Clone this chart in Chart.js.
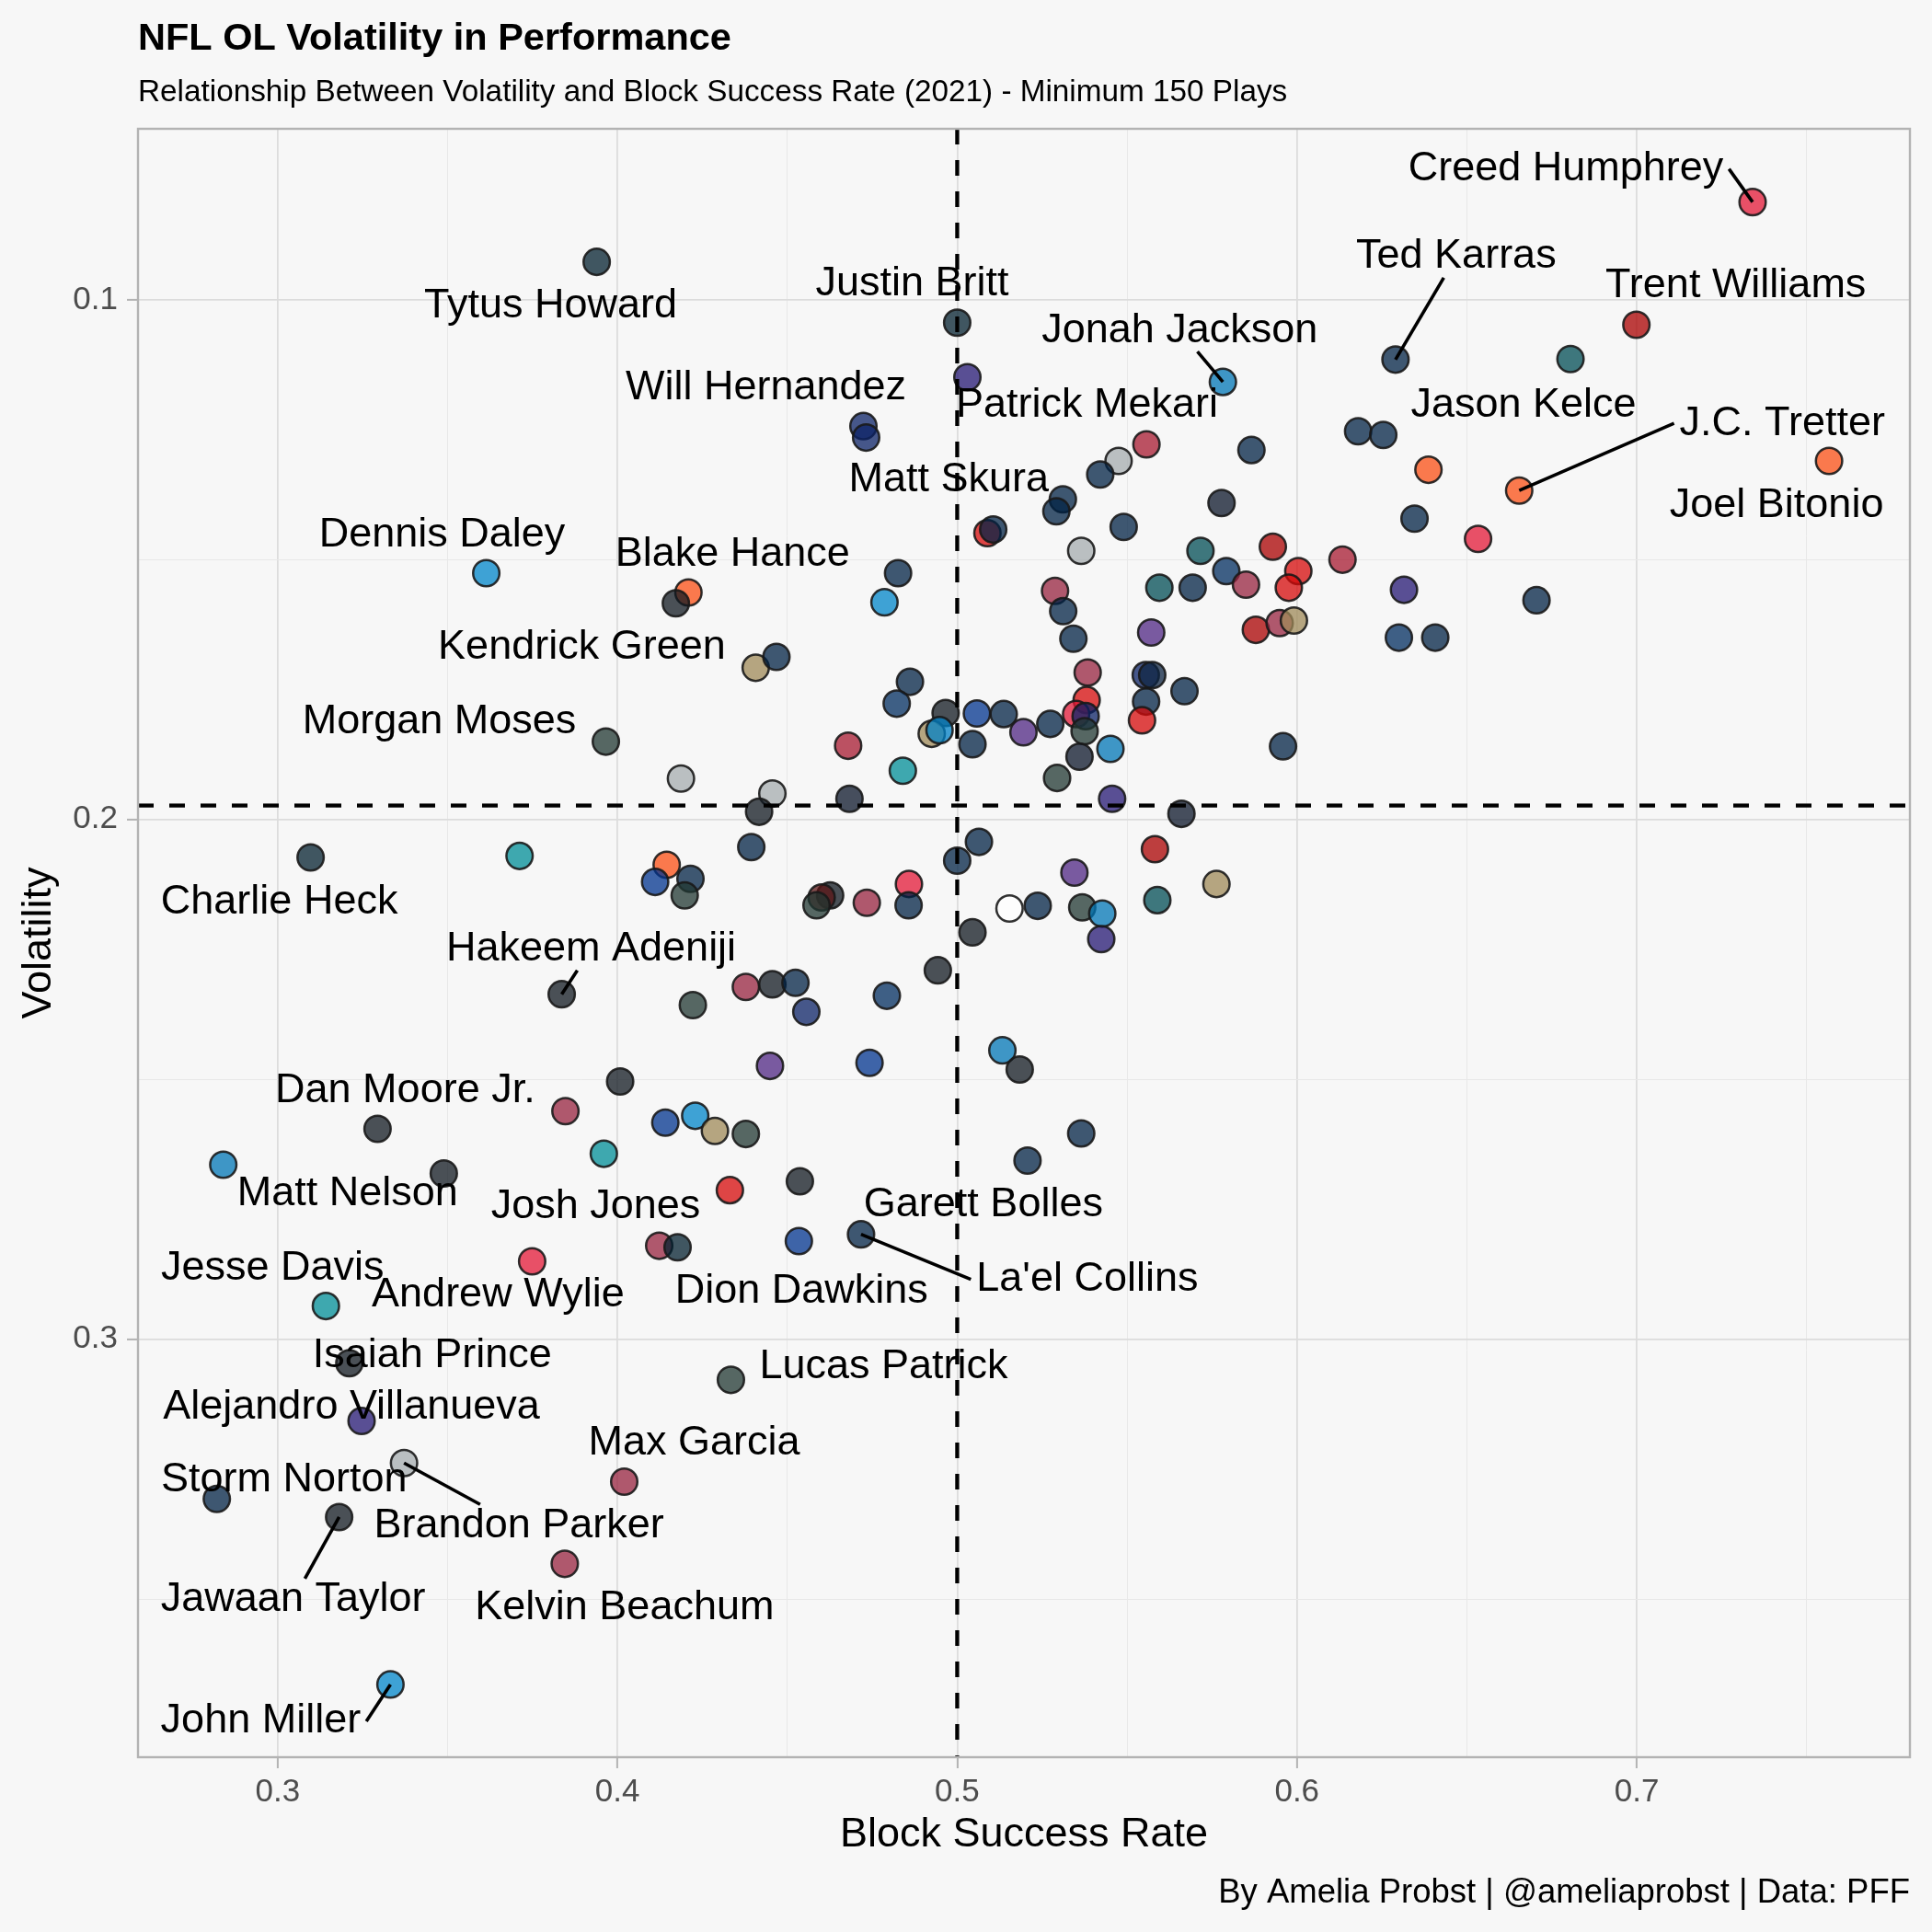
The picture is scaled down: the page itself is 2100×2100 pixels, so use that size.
<!DOCTYPE html>
<html>
<head>
<meta charset="utf-8">
<title>NFL OL Volatility in Performance</title>
<script src="https://cdn.jsdelivr.net/npm/chart.js@4.4.1/dist/chart.umd.min.js"></script>
<style>
  html, body { margin: 0; padding: 0; background: #f7f7f7; }
  #wrap { width: 2100px; height: 2100px; position: relative; }
</style>
</head>
<body>
<div id="wrap"><canvas id="olChart"></canvas></div>
<script>
// labelled linemen come first in the point arrays, in this order
const labelNames = [
  'Creed Humphrey', 'Ted Karras', 'Trent Williams', 'Jonah Jackson', 'Justin Britt',
  'Tytus Howard', 'Will Hernandez', 'Patrick Mekari', 'Matt Skura', 'Jason Kelce',
  'J.C. Tretter', 'Joel Bitonio', 'Dennis Daley', 'Blake Hance', 'Kendrick Green',
  'Morgan Moses', 'Charlie Heck', 'Hakeem Adeniji', 'Dan Moore Jr.', 'Matt Nelson',
  'Josh Jones', 'Garett Bolles', 'Jesse Davis', 'Andrew Wylie', 'Dion Dawkins',
  "La'el Collins", 'Isaiah Prince', 'Lucas Patrick', 'Alejandro Villanueva', 'Max Garcia',
  'Storm Norton', 'Brandon Parker', 'Jawaan Taylor', 'Kelvin Beachum', 'John Miller'
];

const blockSuccess = [
  // labelled
  0.7341, 0.6290, 0.6999, 0.5782, 0.5000, 0.3939, 0.4724, 0.5030, 0.5311, 0.6805,
  0.6654, 0.7566, 0.3614, 0.4209, 0.4407, 0.3966, 0.3097, 0.3836, 0.3294, 0.2840,
  0.4123, 0.5207, 0.3142, 0.3749, 0.4534, 0.4717, 0.3211, 0.4334, 0.3247, 0.4020,
  0.2821, 0.3372, 0.3181, 0.3845, 0.3332,
  // the rest
  0.4172, 0.4468, 0.4732, 0.5557, 0.5475, 0.5421, 0.5866, 0.5778, 0.5292, 0.5089,
  0.5106, 0.5490, 0.5365, 0.5716, 0.5929, 0.6134, 0.6004, 0.5792, 0.5850, 0.5976,
  0.5595, 0.5693, 0.5879, 0.5949, 0.5991, 0.5571, 0.5288, 0.5312, 0.5342, 0.4826,
  0.4786, 0.4861, 0.5384, 0.5555, 0.5574, 0.5669, 0.6180, 0.6254, 0.6387, 0.6346,
  0.6533, 0.6315, 0.6705, 0.6300, 0.6407, 0.4822, 0.4966, 0.4925, 0.4948, 0.5058,
  0.5137, 0.5195, 0.5274, 0.5045, 0.5381, 0.5350, 0.5378, 0.5375, 0.5360, 0.5451,
  0.5294, 0.5456, 0.5556, 0.5544, 0.5959, 0.5660, 0.4679, 0.4840, 0.4456, 0.4417,
  0.4683, 0.4394, 0.5064, 0.5000, 0.5345, 0.5582, 0.5763, 0.5589, 0.5154, 0.5237,
  0.5368, 0.5427, 0.5424, 0.4858, 0.4857, 0.4734, 0.4626, 0.4601, 0.4586, 0.5045,
  0.4943, 0.4378, 0.4456, 0.4524, 0.4556, 0.4793, 0.4449, 0.4742, 0.5133, 0.5184,
  0.4378, 0.4537, 0.5365, 0.4331, 0.4187, 0.3712, 0.4145, 0.4111, 0.4215, 0.4198,
  0.4222, 0.4008, 0.3847, 0.4141, 0.4229, 0.4287, 0.3960, 0.3489, 0.4177
];

const volatility = [
  // labelled
  0.0812, 0.1115, 0.1048, 0.1158, 0.1044, 0.0927, 0.1243, 0.1149, 0.1384, 0.1114,
  0.1367, 0.1310, 0.1526, 0.1563, 0.1708, 0.1850, 0.2073, 0.2336, 0.2595, 0.2664,
  0.2820, 0.2656, 0.2936, 0.2850, 0.2811, 0.2798, 0.3046, 0.3078, 0.3157, 0.3274,
  0.3307, 0.3238, 0.3342, 0.3432, 0.3664,
  // the rest
  0.1584, 0.1687, 0.1265, 0.1278, 0.1310, 0.1336, 0.1289, 0.1391, 0.1407, 0.1449,
  0.1442, 0.1437, 0.1483, 0.1483, 0.1475, 0.1500, 0.1522, 0.1522, 0.1548, 0.1554,
  0.1554, 0.1554, 0.1635, 0.1622, 0.1617, 0.1640, 0.1560, 0.1599, 0.1652, 0.1526,
  0.1582, 0.1735, 0.1717, 0.1722, 0.1722, 0.1753, 0.1253, 0.1260, 0.1327, 0.1421,
  0.1460, 0.1558, 0.1578, 0.1650, 0.1650, 0.1777, 0.1795, 0.1835, 0.1828, 0.1796,
  0.1797, 0.1832, 0.1816, 0.1855, 0.1770, 0.1797, 0.1801, 0.1830, 0.1879, 0.1864,
  0.1920, 0.1960, 0.1773, 0.1809, 0.1859, 0.1989, 0.1858, 0.1906, 0.1950, 0.1985,
  0.1960, 0.2053, 0.2043, 0.2079, 0.2102, 0.2057, 0.2124, 0.2155, 0.2171, 0.2166,
  0.2169, 0.2181, 0.2230, 0.2124, 0.2165, 0.2160, 0.2146, 0.2150, 0.2165, 0.2217,
  0.2290, 0.2322, 0.2317, 0.2314, 0.2370, 0.2339, 0.2474, 0.2468, 0.2444, 0.2481,
  0.2605, 0.2696, 0.2604, 0.2713, 0.1921, 0.2070, 0.2087, 0.2120, 0.2114, 0.2146,
  0.2357, 0.2504, 0.2561, 0.2583, 0.2570, 0.2599, 0.2643, 0.2681, 0.2823
];

const teams = [
  // labelled
  'KC', 'NE', 'SF', 'DET', 'HOU', 'HOU', 'NYG', 'BAL', 'NE', 'PHI',
  'CLE', 'CLE', 'CAR', 'CLE', 'NO', 'GB', 'HOU', 'PIT', 'PIT', 'DET',
  'ARI', 'NE', 'MIA', 'KC', 'BUF', 'NE', 'PIT', 'GB', 'BAL', 'ARI',
  'NE', 'LV', 'PIT', 'ARI', 'CAR',
  // the rest
  'PIT', 'NE', 'NYG', 'ATL', 'LV', 'NE', 'NE', 'CHI', 'NE', 'TB',
  'NE', 'NE', 'LV', 'PHI', 'SF', 'ATL', 'TB', 'IND', 'ARI', 'TB',
  'PHI', 'NE', 'SF', 'ARI', 'NO', 'MIN', 'ARI', 'NE', 'NE', 'NE',
  'CAR', 'NE', 'ARI', 'NYG', 'TEN', 'NE', 'NE', 'NE', 'CLE', 'NE',
  'KC', 'BAL', 'NE', 'IND', 'NE', 'IND', 'PIT', 'NO', 'LAC', 'BUF',
  'NE', 'MIN', 'NE', 'NE', 'TB', 'KC', 'NYG', 'GB', 'CHI', 'DET',
  'GB', 'BAL', 'NE', 'TB', 'NE', 'CHI', 'ATL', 'MIA', 'LV', 'PIT',
  'CHI', 'NE', 'NE', 'NE', 'MIN', 'SF', 'NO', 'PHI', 'NONE', 'NE',
  'GB', 'DET', 'BAL', 'KC', 'NE', 'ARI', 'PIT', 'WAS', 'GB', 'PIT',
  'PIT', 'ARI', 'PIT', 'NE', 'NYG', 'IND', 'MIN', 'BUF', 'DET', 'PIT',
  'GB', 'PIT', 'NE', 'TB', 'LV', 'MIA', 'CLE', 'BUF', 'NE', 'GB',
  'GB', 'PIT', 'ARI', 'BUF', 'CAR', 'NO', 'MIA', 'PIT', 'HOU'
];

const xTickLabels = ['0.3', '0.4', '0.5', '0.6', '0.7'];
const yTickLabels = ['0.1', '0.2', '0.3'];
const xLimits = [0.2589, 0.7804];
const yLimits = [0.0671, 0.3804];

// averages shown as dashed reference lines
const avgBlockSuccess = 0.5;
const avgVolatility = 0.1973;

// ---- styling ----
const teamColors = {
  KC: '#E31837', NE: '#002244', SF: '#AA0000', DET: '#0076B6', HOU: '#03202F',
  NYG: '#0B2265', BAL: '#241773', PHI: '#004C54', CLE: '#FB4F14', CAR: '#0085CA',
  NO: '#9F8958', GB: '#203731', PIT: '#101820', ARI: '#97233F', MIA: '#008E97',
  BUF: '#00338D', LV: '#A5ACAF', ATL: '#A71930', CHI: '#0B162A', TB: '#D50A0A',
  IND: '#002C5F', MIN: '#4F2683', TEN: '#0C2340', LAC: '#0080C6', WAS: '#5A1414',
  NONE: '#FFFFFF'
};

// label centre relative to its point, in pixels (repel layout)
const labelOffsets = [
  [-203, -36], [66, -112], [108, -42], [-47, -56], [-49, -42],
  [-50, 48], [-106, -42], [130, 31], [-124, -21], [-51, 50],
  [286, -73], [-57, 49], [-48, -41], [48, -41], [-189, -22],
  [-181, -21], [-34, 49], [32, -49], [30, -41], [135, 32],
  [-69, -42], [-48, 48], [-58, -41], [-37, 37], [3, 55],
  [246, 49], [90, -8], [166, -14], [-11, -15], [76, -42],
  [73, -21], [125, 68], [-50, 90], [65, 48], [-141, 40]
];
const labelLeader = [
  true, true, false, true, false, false, false, false, false, false,
  true, false, false, false, false, false, false, true, false, false,
  false, false, false, false, false, true, false, false, false, false,
  false, true, true, false, true
];

const FONT = "'Liberation Sans', Arial, Helvetica, sans-serif";
Chart.defaults.font.family = FONT;

function withAlpha(hex, a) {
  const n = parseInt(hex.slice(1), 16);
  return `rgba(${(n >> 16) & 255}, ${(n >> 8) & 255}, ${n & 255}, ${a})`;
}

function tickText(v, list) {
  const s = String(+v.toFixed(2));
  return list.includes(s) ? s : '';
}

const nLabelled = labelNames.length;
const allPoints = blockSuccess.map((x, i) => ({ x: x, y: volatility[i] }));
const allFills = teams.map(t => withAlpha(teamColors[t], 0.75));

const pointStyle = {
  pointRadius: 14.3,
  pointHoverRadius: 14.3,
  borderWidth: 2.5,
  borderColor: 'rgba(25, 25, 25, 0.9)'
};

const annotate = {
  id: 'annotate',
  afterDatasetsDraw(chart) {
    const { ctx, chartArea: a, scales: { x, y } } = chart;
    ctx.save();

    // dashed average lines
    ctx.strokeStyle = '#000';
    ctx.lineWidth = 4.3;
    ctx.setLineDash([17, 17]);
    const vx = x.getPixelForValue(avgBlockSuccess);
    ctx.beginPath(); ctx.moveTo(vx, a.top); ctx.lineTo(vx, a.bottom); ctx.stroke();
    const hy = y.getPixelForValue(avgVolatility);
    ctx.beginPath(); ctx.moveTo(a.left, hy); ctx.lineTo(a.right, hy); ctx.stroke();
    ctx.setLineDash([]);

    // panel border
    ctx.strokeStyle = '#b3b3b3';
    ctx.lineWidth = 2.4;
    ctx.strokeRect(a.left, a.top, a.right - a.left, a.bottom - a.top);

    // player labels
    ctx.font = '45px ' + FONT;
    ctx.textAlign = 'center';
    ctx.textBaseline = 'middle';
    ctx.fillStyle = '#000';
    for (let i = 0; i < nLabelled; i++) {
      const px = x.getPixelForValue(blockSuccess[i]);
      const py = y.getPixelForValue(volatility[i]);
      const cx = px + labelOffsets[i][0];
      const cy = py + labelOffsets[i][1];
      if (labelLeader[i]) {
        const hw = ctx.measureText(labelNames[i]).width / 2 + 6;
        const hh = 23;
        let sx, sy;
        if (px < cx - hw || px > cx + hw) {
          sx = px < cx ? cx - hw : cx + hw;
          sy = cy;
        } else {
          sy = py < cy ? cy - hh : cy + hh;
          sx = cx + (px - cx) * (sy - cy) / (py - cy);
        }
        ctx.strokeStyle = '#000';
        ctx.lineWidth = 3.6;
        ctx.beginPath(); ctx.moveTo(sx, sy); ctx.lineTo(px, py); ctx.stroke();
      }
      ctx.fillText(labelNames[i], cx, cy);
    }
    ctx.restore();
  },
  afterDraw(chart) {
    const { ctx, chartArea: a } = chart;
    ctx.save();
    ctx.fillStyle = '#000';
    ctx.textBaseline = 'alphabetic';
    ctx.textAlign = 'left';
    ctx.font = 'bold 41.5px ' + FONT;
    ctx.fillText('NFL OL Volatility in Performance', a.left, 54);
    ctx.font = '33.3px ' + FONT;
    ctx.fillText('Relationship Between Volatility and Block Success Rate (2021) - Minimum 150 Plays', a.left, 110);
    ctx.textAlign = 'right';
    ctx.font = '36.5px ' + FONT;
    ctx.fillText('By Amelia Probst | @ameliaprobst | Data: PFF', a.right, 2068);
    ctx.restore();
  }
};

function gridStyle(list) {
  return {
    color: c => tickText(c.tick.value, list) ? '#dcdcdc' : '#e8e8e8',
    lineWidth: c => tickText(c.tick.value, list) ? 1.8 : 1,
    tickColor: c => tickText(c.tick.value, list) ? '#b3b3b3' : 'rgba(0,0,0,0)',
    tickWidth: 2,
    tickLength: 12
  };
}

new Chart(document.getElementById('olChart'), {
  type: 'scatter',
  data: {
    datasets: [
      Object.assign({
        label: 'Other linemen',
        data: allPoints.slice(nLabelled),
        backgroundColor: allFills.slice(nLabelled)
      }, pointStyle),
      Object.assign({
        label: 'Labelled linemen',
        data: allPoints.slice(0, nLabelled),
        backgroundColor: allFills.slice(0, nLabelled)
      }, pointStyle)
    ]
  },
  options: {
    responsive: true,
    maintainAspectRatio: false,
    animation: false,
    layout: { padding: { top: 140, right: 24, bottom: 78, left: 16 } },
    plugins: {
      legend: { display: false },
      tooltip: { enabled: false },
      title: { display: false }
    },
    scales: {
      x: {
        type: 'linear',
        position: 'bottom',
        min: xLimits[0],
        max: xLimits[1],
        afterFit: s => { s.height = 112; },
        border: { display: false },
        grid: gridStyle(xTickLabels),
        ticks: {
          stepSize: 0.05,
          includeBounds: false,
          autoSkip: false,
          maxRotation: 0,
          padding: 5,
          color: '#4d4d4d',
          font: { size: 35 },
          callback: v => tickText(v, xTickLabels)
        },
        title: {
          display: true,
          text: 'Block Success Rate',
          color: '#000',
          font: { size: 45 },
          padding: 0
        }
      },
      y: {
        type: 'linear',
        position: 'left',
        reverse: true,
        min: yLimits[0],
        max: yLimits[1],
        afterFit: s => { s.width = 134; },
        border: { display: false },
        grid: gridStyle(yTickLabels),
        ticks: {
          stepSize: 0.05,
          includeBounds: false,
          autoSkip: false,
          padding: 10,
          color: '#4d4d4d',
          font: { size: 35 },
          callback: v => tickText(v, yTickLabels)
        },
        title: {
          display: true,
          text: 'Volatility',
          color: '#000',
          font: { size: 45 },
          padding: 0
        }
      }
    }
  },
  plugins: [annotate]
});
</script>
</body>
</html>
